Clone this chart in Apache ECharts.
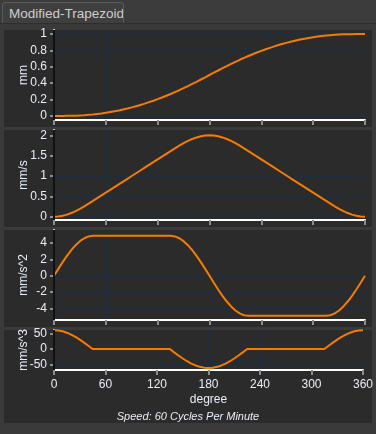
<!DOCTYPE html>
<html>
<head>
<meta charset="utf-8">
<script src="https://cdn.jsdelivr.net/npm/echarts@6/dist/echarts.min.js"></script>
<style>
  html, body { margin: 0; padding: 0; background: #3c3c3c; }
  #wrap { position: relative; width: 376px; height: 434px; overflow: hidden; font-family: 'Liberation Sans', Arial, sans-serif; }
  #tab { position: absolute; left: 2px; top: 2px; width: 122px; height: 21px; background: #3f3f3f; border: 1px solid #5a5a5a; border-bottom: none; border-radius: 4px 4px 0 0; color: #cdcdcd; font-size: 13.5px; line-height: 22px; padding-left: 6px; box-sizing: border-box; white-space: nowrap; overflow: hidden; }
  #frame { position: absolute; left: 0; top: 23px; width: 376px; height: 411px; background: #3a3a3a; border-top: 1px solid #2e2e2e; box-sizing: border-box; }
  .panel { position: absolute; left: 4px; width: 368px; background: #2b2b2b; }
  #chart { position: absolute; left: 0; top: 0; width: 376px; height: 434px; }
</style>
</head>
<body>
<div id="wrap">
  <div id="frame"></div>
  <div class="panel" style="top:30px;height:97px"></div>
  <div class="panel" style="top:130px;height:97px"></div>
  <div class="panel" style="top:230px;height:97px"></div>
  <div class="panel" style="top:330px;height:93px"></div>
  <div id="tab">Modified-Trapezoid</div>
  <div id="chart"></div>
</div>
<script>
// cam angle (degree), 5 degree steps
const degrees = [0, 5, 10, 15, 20, 25, 30, 35, 40, 45, 50, 55, 60, 65, 70, 75, 80, 85, 90, 95,
  100, 105, 110, 115, 120, 125, 130, 135, 140, 145, 150, 155, 160, 165, 170, 175, 180, 185, 190, 195,
  200, 205, 210, 215, 220, 225, 230, 235, 240, 245, 250, 255, 260, 265, 270, 275, 280, 285, 290, 295,
  300, 305, 310, 315, 320, 325, 330, 335, 340, 345, 350, 355, 360]

// displacement mm
const displacement = [0, 0, 0, 0.001, 0.002, 0.003, 0.006, 0.009, 0.013, 0.018, 0.024, 0.030, 0.038, 0.047, 0.056, 0.067, 0.079, 0.091, 0.104, 0.119,
  0.134, 0.150, 0.168, 0.186, 0.205, 0.225, 0.246, 0.268, 0.291, 0.314, 0.339, 0.364, 0.391, 0.417, 0.445, 0.472, 0.500, 0.528, 0.555, 0.583,
  0.609, 0.636, 0.661, 0.686, 0.709, 0.732, 0.754, 0.775, 0.795, 0.814, 0.832, 0.850, 0.866, 0.881, 0.896, 0.909, 0.921, 0.933, 0.944, 0.953,
  0.962, 0.970, 0.976, 0.982, 0.987, 0.991, 0.994, 0.997, 0.998, 0.999, 1.000, 1.000, 1.000]

// velocity mm/s
const velocity = [0, 0.006, 0.024, 0.052, 0.091, 0.139, 0.195, 0.256, 0.322, 0.389, 0.457, 0.525, 0.593, 0.661, 0.728, 0.796, 0.864, 0.932, 1.000, 1.068,
  1.136, 1.204, 1.272, 1.339, 1.407, 1.475, 1.543, 1.611, 1.679, 1.744, 1.806, 1.861, 1.909, 1.948, 1.977, 1.994, 2.000, 1.994, 1.977, 1.948,
  1.909, 1.861, 1.806, 1.744, 1.679, 1.611, 1.543, 1.475, 1.407, 1.339, 1.272, 1.204, 1.136, 1.068, 1.000, 0.932, 0.864, 0.796, 0.728, 0.661,
  0.593, 0.525, 0.457, 0.389, 0.322, 0.256, 0.195, 0.139, 0.091, 0.052, 0.024, 0.006, 0]

// acceleration mm/s^2
const acceleration = [0, 0.849, 1.672, 2.444, 3.142, 3.744, 4.233, 4.593, 4.814, 4.888, 4.888, 4.888, 4.888, 4.888, 4.888, 4.888, 4.888, 4.888, 4.888, 4.888,
  4.888, 4.888, 4.888, 4.888, 4.888, 4.888, 4.888, 4.888, 4.814, 4.593, 4.233, 3.744, 3.142, 2.444, 1.672, 0.849, 0, -0.849, -1.672, -2.444,
  -3.142, -3.744, -4.233, -4.593, -4.814, -4.888, -4.888, -4.888, -4.888, -4.888, -4.888, -4.888, -4.888, -4.888, -4.888, -4.888, -4.888, -4.888, -4.888, -4.888,
  -4.888, -4.888, -4.888, -4.888, -4.814, -4.593, -4.233, -3.744, -3.142, -2.444, -1.672, -0.849, 0]

// jerk mm/s^3
const jerk = [61.4, 60.5, 57.7, 53.2, 47.1, 39.5, 30.7, 21.0, 10.7, 0, 0, 0, 0, 0, 0, 0, 0, 0, 0, 0,
  0, 0, 0, 0, 0, 0, 0, 0, -10.7, -21.0, -30.7, -39.5, -47.1, -53.2, -57.7, -60.5, -61.4, -60.5, -57.7, -53.2,
  -47.1, -39.5, -30.7, -21.0, -10.7, 0, 0, 0, 0, 0, 0, 0, 0, 0, 0, 0, 0, 0, 0, 0,
  0, 0, 0, 0, 10.7, 21.0, 30.7, 39.5, 47.1, 53.2, 57.7, 60.5, 61.4]

const dispTicks = [0, 0.2, 0.4, 0.6, 0.8, 1]
const velTicks = [0, 0.5, 1, 1.5, 2]
const accTicks = [-4, -2, 0, 2, 4]
const jerkTicks = [-50, 0, 50]

const textColor = '#e8eef8'
const tickColor = '#8c8c8c'
const gridColor = '#1f2e3e'
const lineColor = '#f57c00'

const panels = [
  { top: 30, height: 90, name: 'mm', min: -0.05, max: 1.05, ticks: dispTicks, data: displacement },
  { top: 130, height: 90, name: 'mm/s', min: -0.08, max: 2.13, ticks: velTicks, data: velocity },
  { top: 230, height: 90, name: 'mm/s^2', min: -5.4, max: 5.6, ticks: accTicks, data: acceleration },
  { top: 330, height: 40, name: 'mm/s^3', min: -68, max: 62, ticks: jerkTicks, data: jerk }
]

const chart = echarts.init(document.getElementById('chart'))

// y axis titles sit over the tick labels, like the original
const yNames = panels.map(p => ({
  type: 'text',
  x: 24,
  y: p.top + p.height / 2,
  rotation: Math.PI / 2,
  style: {
    text: p.name,
    fill: textColor,
    align: 'center',
    verticalAlign: 'middle',
    font: '12px "Liberation Sans", Arial, sans-serif'
  },
  z: 10
}))

chart.setOption({
  backgroundColor: 'transparent',
  animation: false,
  grid: panels.map(p => ({ left: 54, right: 11, top: p.top, height: p.height })),
  xAxis: panels.map((p, i) => ({
    type: 'value',
    gridIndex: i,
    min: 0,
    max: 360,
    interval: 60,
    name: i === 3 ? 'degree' : '',
    nameLocation: 'middle',
    nameGap: 24,
    nameTextStyle: { color: textColor, fontSize: 12 },
    axisLine: { show: true, onZero: false, lineStyle: { color: '#ffffff', width: 2 } },
    axisTick: { show: true, length: 5, lineStyle: { color: tickColor, width: 2 } },
    axisLabel: { show: i === 3, color: textColor, fontSize: 12, margin: 9 },
    splitLine: { show: true, showMinLine: false, showMaxLine: false, lineStyle: { color: gridColor, width: 1 } }
  })),
  yAxis: panels.map((p, i) => ({
    type: 'value',
    gridIndex: i,
    min: p.min,
    max: p.max,
    offset: 3,
    axisLine: { show: true, lineStyle: { color: '#ffffff', width: 2 } },
    axisTick: { show: true, length: 4, customValues: p.ticks, lineStyle: { color: tickColor, width: 2 } },
    axisLabel: { color: textColor, fontSize: 12, margin: 4, customValues: p.ticks },
    splitLine: { show: true, lineStyle: { color: gridColor, width: 1 } }
  })),
  series: panels.map((p, i) => ({
    type: 'line',
    xAxisIndex: i,
    yAxisIndex: i,
    data: degrees.map((d, k) => [d, p.data[k]]),
    showSymbol: false,
    lineStyle: { color: lineColor, width: 2 },
    markLine: {
      silent: true,
      symbol: 'none',
      label: { show: false },
      lineStyle: { color: '#111111', width: 2, type: 'solid' },
      data: [{ xAxis: 0 }]
    },
    z: 3
  })),
  graphic: yNames.concat([
    {
      type: 'text',
      left: 'center',
      top: 411,
      style: {
        text: 'Speed: 60 Cycles Per Minute',
        fill: textColor,
        font: 'italic 11px "Liberation Sans", Arial, sans-serif'
      }
    }
  ])
})
</script>
</body>
</html>
